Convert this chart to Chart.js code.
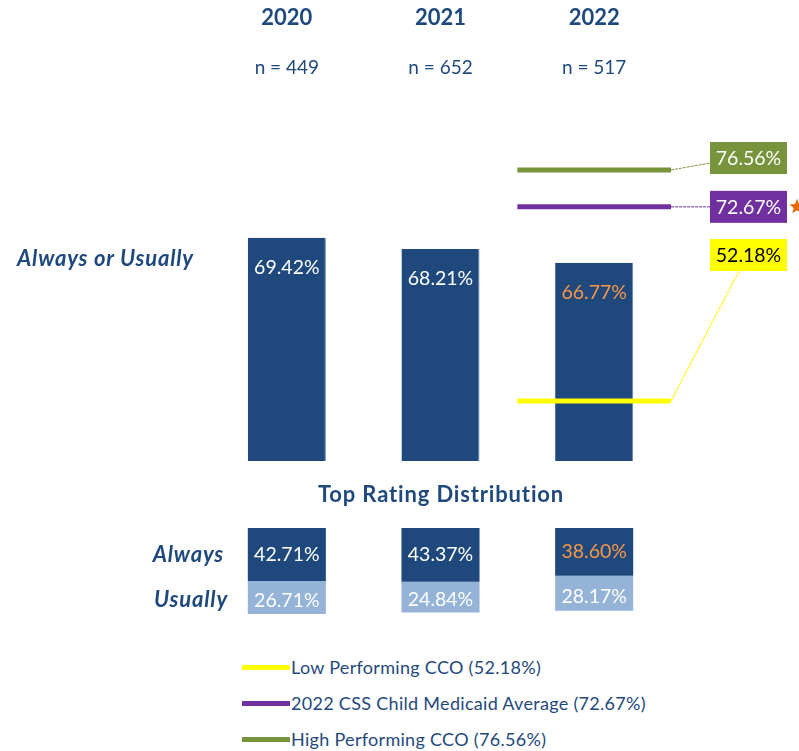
<!DOCTYPE html>
<html><head><meta charset="utf-8">
<script src="https://cdn.jsdelivr.net/npm/chart.js@4.4.1/dist/chart.umd.min.js"></script>
<style>
html,body{margin:0;padding:0;background:#fff;width:799px;height:751px;overflow:hidden;font-family:Lato,"Open Sans",sans-serif;}
#wrap{position:relative;width:799px;height:751px;}
#topC{position:absolute;left:0;top:0;}
#botC{position:absolute;left:0;top:470px;}
.t{position:absolute;color:#1F497D;white-space:nowrap;line-height:24px;height:24px;}
.bi{font-weight:bold;font-style:italic;font-size:22px;letter-spacing:0.8px;}
.b{font-weight:bold;font-size:22px;letter-spacing:0.85px;}
.leg{position:absolute;left:242px;height:24px;}
.leg .ln{position:absolute;left:0;top:10px;width:48px;height:5px;}
.leg .tx{position:absolute;left:49px;top:0;line-height:24px;font-size:18px;letter-spacing:0.3px;color:#1F497D;white-space:nowrap;}
</style>
</head><body>
<div id="wrap">
<canvas id="topC" width="799" height="470"></canvas>
<canvas id="botC" width="799" height="170"></canvas>
<div class="t bi" style="left:17px;top:246px;">Always or Usually</div>
<div class="t b" style="left:0;width:882px;text-align:center;top:482px;">Top Rating Distribution</div>
<div class="t bi" style="left:0;width:224px;text-align:right;top:542px;">Always</div>
<div class="t bi" style="left:0;width:228px;text-align:right;top:587px;">Usually</div>
<div id="legend"></div>
</div>
<script>
// ---- data ----
const years = ['2020', '2021', '2022'];
const nLabels = ['n = 449', 'n = 652', 'n = 517'];
const alwaysOrUsually = [69.42, 68.21, 66.77];
const always = [42.71, 43.37, 38.60];
const usually = [26.71, 24.84, 28.17];
const refNames = ['Low Performing CCO', '2022 CSS Child Medicaid Average', 'High Performing CCO'];
const refValues = [52.18, 72.67, 76.56];

// ---- styles ----
const NAVY = '#1F497D', LIGHT = '#95B3D7', ORANGE = '#F79646';
const refColors = ['#FFFF00', '#7030A0', '#77933C'];
const refBoxText = ['#000000', '#FFFFFF', '#FFFFFF'];
const FONT = 'Lato, "Open Sans", sans-serif';
const fmt = v => v.toFixed(2) + '%';

// legend (HTML)
const legEl = document.getElementById('legend');
const legTops = [655, 691, 727];
refNames.forEach((n, i) => {
  const d = document.createElement('div');
  d.className = 'leg';
  d.style.top = legTops[i] + 'px';
  d.innerHTML = '<div class="ln" style="background:' + refColors[i] + '"></div><div class="tx">' + n + ' (' + fmt(refValues[i]) + ')</div>';
  legEl.appendChild(d);
});

function drawStar(ctx, cx, cy, ro, ri, color) {
  ctx.beginPath();
  for (let k = 0; k < 10; k++) {
    const r = k % 2 === 0 ? ro : ri;
    const a = -Math.PI / 2 + k * Math.PI / 5;
    const px = cx + r * Math.cos(a), py = cy + r * Math.sin(a);
    if (k === 0) ctx.moveTo(px, py); else ctx.lineTo(px, py);
  }
  ctx.closePath();
  ctx.fillStyle = color;
  ctx.fill();
}

const topPlugin = {
  id: 'topLabels',
  afterDatasetsDraw(chart) {
    const ctx = chart.ctx;
    const xs = chart.scales.x, xl = chart.scales.xl, ys = chart.scales.y;
    const ca = chart.chartArea;
    ctx.save();
    ctx.textAlign = 'center';
    ctx.textBaseline = 'middle';
    // headers
    years.forEach((yr, i) => {
      const x = xs.getPixelForValue(i);
      ctx.fillStyle = NAVY;
      ctx.font = 'bold 22px ' + FONT;
      ctx.fillText(yr, x, 18);
      ctx.font = '19px ' + FONT;
      ctx.fillText(nLabels[i], x, 68);
    });
    // bar labels
    const meta = chart.getDatasetMeta(0);
    meta.data.forEach((bar, i) => {
      ctx.font = '19.5px ' + FONT;
      ctx.fillStyle = i === meta.data.length - 1 ? ORANGE : '#FFFFFF';
      ctx.fillText(fmt(alwaysOrUsually[i]), bar.x, bar.y + 30);
    });
    // reference boxes and connectors
    const boxW = 77, boxH = 32;
    const boxLeft = ca.right + 39;
    const boxOffsets = [-146, 0, -12];
    refValues.forEach((v, i) => {
      const lx = xl.getPixelForValue(2.5);
      const ly = ys.getPixelForValue(v);
      const cy = ly + boxOffsets[i];
      const top = cy - boxH / 2;
      ctx.strokeStyle = refColors[i];
      ctx.lineWidth = 1;
      ctx.setLineDash(i === 0 ? [] : [3, 1]);
      ctx.beginPath();
      ctx.moveTo(lx, ly);
      if (Math.abs(ly - cy) > boxH) ctx.lineTo(boxLeft + 29, top + boxH);
      else ctx.lineTo(boxLeft, Math.min(ly, cy + 5));
      ctx.stroke();
      ctx.setLineDash([]);
      ctx.fillStyle = refColors[i];
      ctx.fillRect(boxLeft, top, boxW, boxH);
      ctx.fillStyle = refBoxText[i];
      ctx.font = '19.5px ' + FONT;
      ctx.fillText(fmt(v), boxLeft + boxW / 2, cy + 1);
      if (i === 1) drawStar(ctx, boxLeft + boxW + 10, cy, 8, 3.5, '#E36C09');
    });
    ctx.restore();
  }
};

new Chart(document.getElementById('topC'), {
  data: {
    labels: years,
    datasets: [
      { type: 'bar', data: alwaysOrUsually, backgroundColor: NAVY, borderColor: '#5F82AE', borderWidth: { right: 1 },
        grouped: false, barPercentage: 0.508, categoryPercentage: 1, xAxisID: 'x', yAxisID: 'y', order: 2 }
    ].concat(refValues.map((v, i) => ({
      type: 'line', label: refNames[i], data: [{ x: 1.5, y: v }, { x: 2.5, y: v }],
      xAxisID: 'xl', yAxisID: 'y', borderColor: refColors[i], borderWidth: 5, pointRadius: 0, order: 1
    })))
  },
  options: {
    responsive: false, animation: false, devicePixelRatio: 1,
    layout: { padding: { left: 210, right: 128, top: 137.4, bottom: 9 } },
    scales: {
      x: { type: 'category', display: false, offset: true },
      xl: { type: 'linear', display: false, min: -0.5, max: 2.5 },
      y: { type: 'linear', display: false, min: 45.85, max: 80 }
    },
    plugins: { legend: { display: false }, tooltip: { enabled: false } }
  },
  plugins: [topPlugin]
});

const botPlugin = {
  id: 'botLabels',
  afterDatasetsDraw(chart) {
    const ctx = chart.ctx;
    ctx.save();
    ctx.textAlign = 'center';
    ctx.textBaseline = 'middle';
    ctx.font = '19.5px ' + FONT;
    [always, usually].forEach((arr, d) => {
      const meta = chart.getDatasetMeta(d);
      meta.data.forEach((bar, i) => {
        ctx.fillStyle = (d === 0 && i === arr.length - 1) ? ORANGE : '#FFFFFF';
        ctx.fillText(fmt(arr[i]), bar.x, (bar.y + bar.base) / 2 + (d === 1 ? 3 : 0));
      });
    });
    ctx.restore();
  }
};

new Chart(document.getElementById('botC'), {
  type: 'bar',
  data: {
    labels: years,
    datasets: [
      { label: 'Always', data: always, backgroundColor: NAVY, stack: 's', barPercentage: 0.508, categoryPercentage: 1 },
      { label: 'Usually', data: usually, backgroundColor: LIGHT, stack: 's', barPercentage: 0.508, categoryPercentage: 1 }
    ]
  },
  options: {
    responsive: false, animation: false, devicePixelRatio: 1,
    layout: { padding: { left: 210, right: 128, top: 58, bottom: 12.8 } },
    scales: {
      x: { display: false, stacked: true, offset: true },
      y: { display: false, stacked: true, reverse: true, min: 0, max: 80 }
    },
    plugins: { legend: { display: false }, tooltip: { enabled: false } }
  },
  plugins: [botPlugin]
});
</script>
</body></html>
